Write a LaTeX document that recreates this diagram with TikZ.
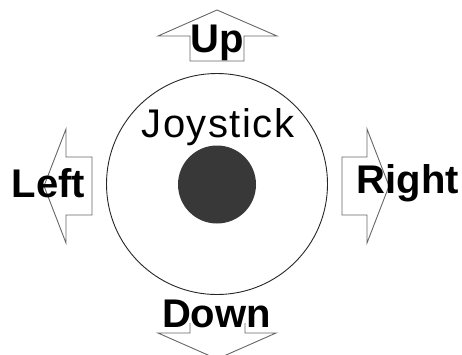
\documentclass[tikz,border=0pt]{standalone}
\usepackage{fontspec}
\setmainfont{Liberation Sans}
\newfontfamily\spacedsans[LetterSpace=3.8]{Liberation Sans}
\begin{document}
\begin{tikzpicture}[x=1pt,y=-1pt,
  arrowline/.style={draw=black!60,line width=0.9pt,line join=miter},
  dirlabel/.style={font=\fontsize{40}{40}\selectfont\bfseries,anchor=base,inner sep=0pt},
  ringline/.style={draw=black!85,line width=0.9pt}]
\useasboundingbox (0,0) rectangle (462,354);
\clip (0,0) rectangle (462,354);
% ring and stick
\node[ringline,circle,minimum size=221pt,inner sep=0pt] (ring) at (217,184) {};
\node[circle,fill=black!78,minimum size=78pt,inner sep=0pt] (stick) at (217,184.5) {};
\node[font=\spacedsans\fontsize{40}{40}\selectfont,anchor=base,inner sep=0pt] (title) at (218,137) {Joystick};
% up arrow
\draw[arrowline] (217,10) -- (277,36) -- (244,36) -- (244,61) -- (190,61) -- (190,36) -- (158,36) -- cycle;
% down arrow
\draw[arrowline] (190,323) -- (190,333) -- (158,333) -- (217,359) -- (276,333) -- (245,333) -- (245,323);
% left arrow
\draw[arrowline] (44,186) -- (66,129) -- (66,157) -- (92,157) -- (92,215) -- (66,215) -- (66,243) -- cycle;
% right arrow
\draw[arrowline] (389,186) -- (367,129) -- (367,157) -- (342,157) -- (342,215) -- (367,215) -- (367,243) -- cycle;
% labels
\node[dirlabel] (up) at (217.5,52) {Up};
\node[dirlabel] (down) at (216.5,327) {Down};
\node[dirlabel] (left) at (48.5,197) {Left};
\node[dirlabel] (right) at (408,193) {Right};
\end{tikzpicture}
\end{document}
